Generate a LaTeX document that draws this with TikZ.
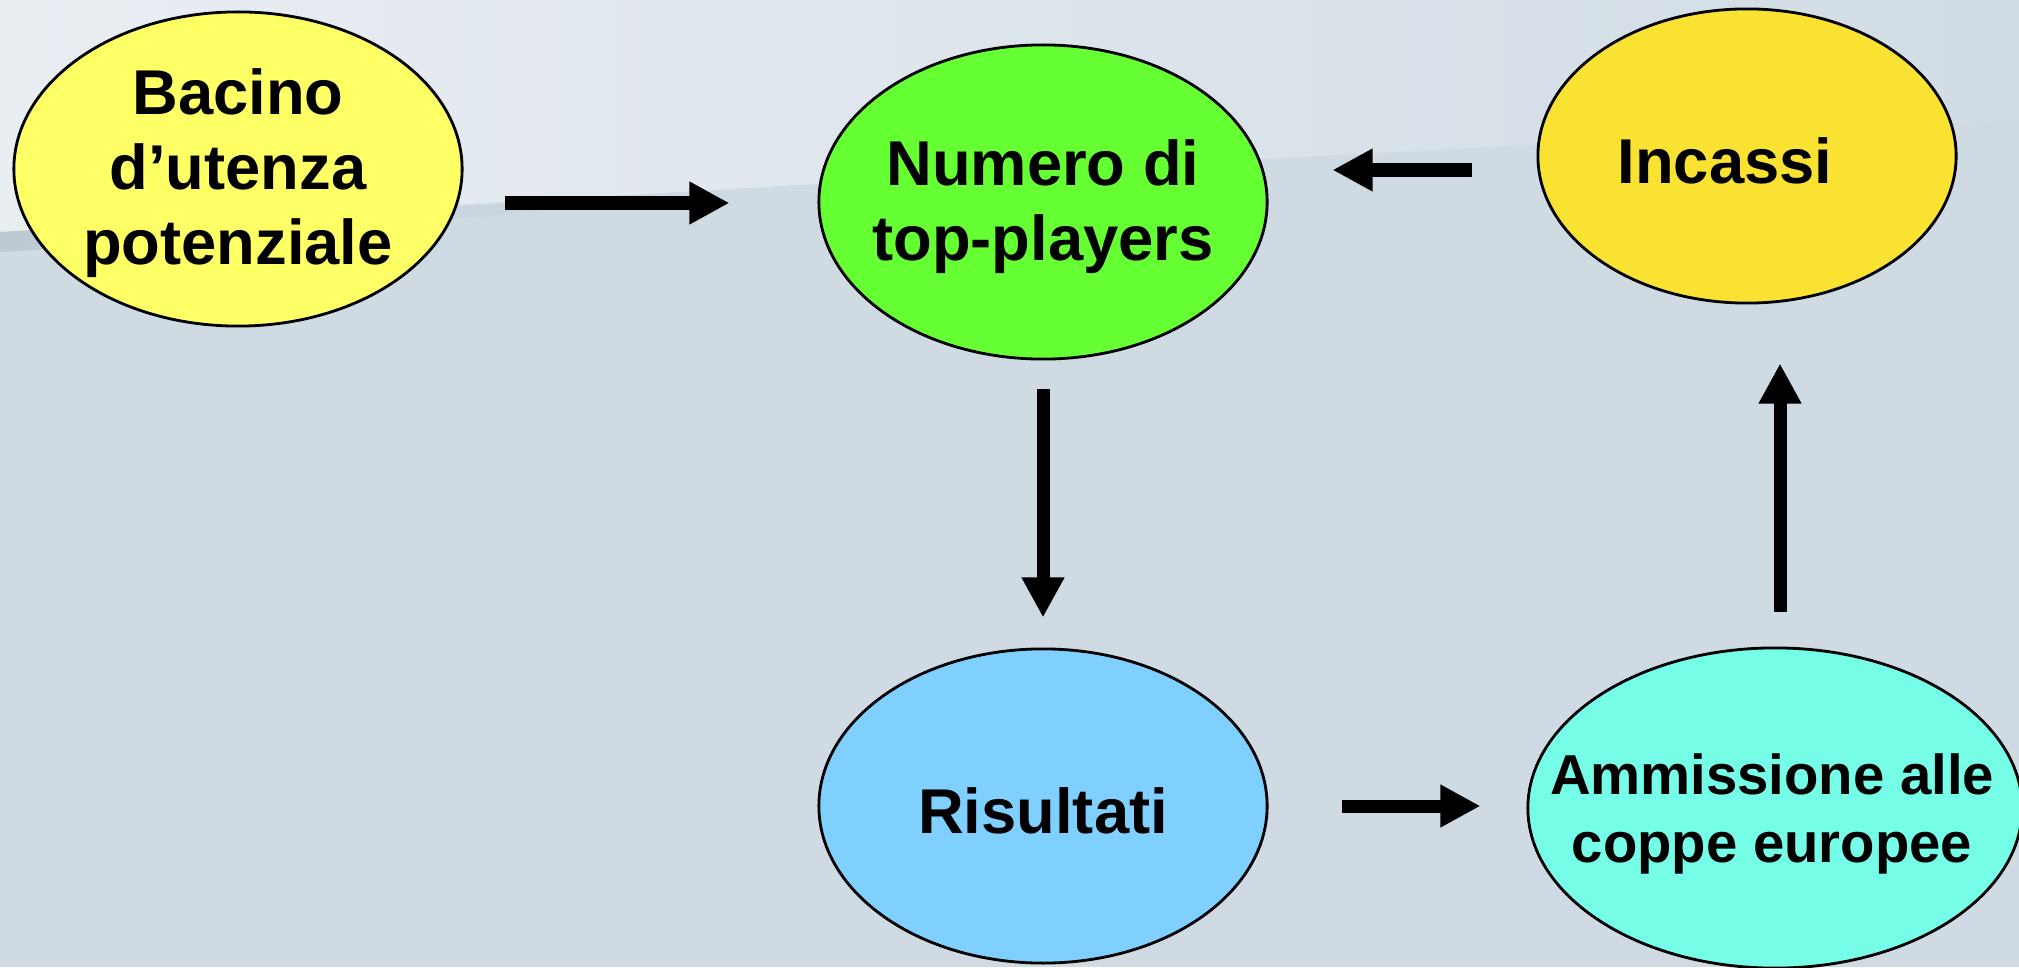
\documentclass[tikz,border=0pt]{standalone}
\usepackage{fontspec}
\setmainfont{Liberation Sans}
\usetikzlibrary{shapes.geometric, arrows.meta, calc}

\definecolor{sfondo}{HTML}{CFDAE3}
\definecolor{sfondochiaro}{HTML}{E9EEF3}
\definecolor{banda}{HTML}{BFC9D3}
\definecolor{giallo}{HTML}{FFFF66}
\definecolor{verde}{HTML}{66FF33}
\definecolor{oro}{HTML}{F9E232}
\definecolor{azzurro}{HTML}{80D0FF}
\definecolor{acqua}{HTML}{75FDE8}

\begin{document}
\begin{tikzpicture}[
    x=0.01cm, y=-0.01cm,
    bolla/.style={ellipse, draw, line width=0.8pt, inner sep=0pt,
        minimum width=4.48cm, minimum height=3.14cm},
    testo/.style={align=center, inner sep=0pt, yshift=-0.045cm,
        font=\fontsize{18pt}{21.3pt}\selectfont\bfseries},
    testopiccolo/.style={align=center, inner sep=0pt,
        font=\fontsize{16pt}{19.3pt}\selectfont\bfseries},
    freccia/.style={line width=0.13cm, -{Triangle[length=0.4cm, width=0.4cm]}}
]

    % Sfondo
    \useasboundingbox (0,0) rectangle (2019,967);
    \clip (0,0) rectangle (2019,967);
    \fill[sfondo] (0,0) rectangle (2019,967);
    \shade[left color=sfondochiaro, right color=sfondo!95!white]
        (0,0) -- (2019,0) -- (2019,120) .. controls (1400,150) and (700,190) .. (0,232) -- cycle;
    \shade[left color=banda, right color=sfondo]
        (0,232) .. controls (300,215) and (500,205) .. (700,192)
        -- (700,196) .. controls (500,215) and (300,235) .. (0,252) -- cycle;

    % Nodi
    \node[bolla, fill=giallo] (bacino) at (238,169) {};
    \node[bolla, fill=verde] (numero) at (1043,202) {};
    \node[bolla, fill=oro, minimum width=4.18cm, minimum height=2.94cm] (incassi) at (1747,156) {};
    \node[bolla, fill=azzurro] (risultati) at (1043,806) {};
    \node[bolla, fill=acqua, minimum width=4.94cm, minimum height=3.2cm] (ammissione) at (1775,808) {};

    % Testi
    \node[testo] (bacino-t) at (bacino) {Bacino\\d’utenza\\potenziale};
    \node[testo] (numero-t) at (numero) {Numero di\\top-players};
    \node[testo] (incassi-t) at ($(incassi)+(-22,0)$) {Incassi};
    \node[testo] (risultati-t) at (risultati) {Risultati};
    \node[testopiccolo] (ammissione-t) at ($(ammissione)+(-3,6)$) {Ammissione alle\\coppe europee};

    % Frecce
    \draw[freccia] ($(bacino.east)+(41,34)$) -- ($(numero.west)+(-88,1)$);
    \draw[freccia] ($(incassi.west)+(-65,14)$) -- ($(numero.east)+(64,-32)$);
    \draw[freccia] ($(numero.south)+(0,29)$) -- ($(risultati.north)+(0,-30)$);
    \draw[freccia] ($(risultati.east)+(73,0)$) -- ($(ammissione.west)+(-46,-2)$);
    \draw[freccia] ($(ammissione.north)+(5,-35)$) -- ($(incassi.south)+(33,59)$);

\end{tikzpicture}
\end{document}
